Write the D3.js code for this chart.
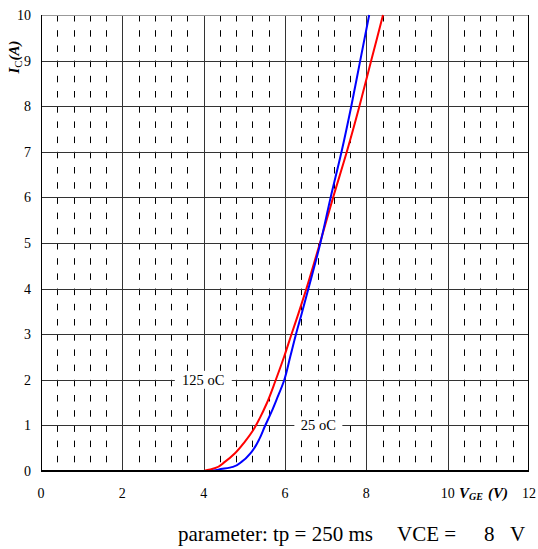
<!DOCTYPE html>
<html>
<head>
<meta charset="utf-8">
<script src="https://cdn.jsdelivr.net/npm/d3@7"></script>
<style>
  body { margin: 0; background: #fff; }
  svg text { font-family: "Liberation Serif", "Times New Roman", serif; fill: #000; }
</style>
</head>
<body>
<div id="chart"></div>
<script>
// transfer characteristic, VGE (V) vs IC (A)
const vge125 = [4.0, 4.27, 4.52, 4.77, 5.01, 5.22, 5.38, 5.55, 5.77, 5.98, 6.16, 6.33, 6.52, 6.86, 7.18, 7.52, 7.83, 8.12, 8.41];
const ic125  = [0, 0.06, 0.2, 0.39, 0.64, 0.9, 1.16, 1.48, 1.99, 2.51, 3.0, 3.45, 3.98, 5.0, 5.99, 7.0, 8.0, 9.0, 10];
const vge25 = [4.2, 4.36, 4.72, 4.93, 5.18, 5.38, 5.5, 5.67, 5.79, 5.98, 6.13, 6.27, 6.41, 6.57, 6.87, 7.12, 7.39, 7.63, 7.85, 8.07];
const ic25  = [0, 0.03, 0.09, 0.2, 0.42, 0.72, 0.97, 1.3, 1.56, 1.99, 2.51, 3.0, 3.45, 3.98, 5.0, 5.99, 7.0, 8.0, 9.0, 10];
const xTicks = [0, 2, 4, 6, 8, 10, 12];
const yTicks = [0, 1, 2, 3, 4, 5, 6, 7, 8, 9, 10];
const xMinor = d3.range(0, 12, 0.4).filter(v => Math.abs(v / 2 - Math.round(v / 2)) > 0.01);

const width = 538, height = 549;
const margin = {left: 41, right: 9, top: 15, bottom: 78};
const x = d3.scaleLinear().domain([0, 12]).range([margin.left, width - margin.right]);
const y = d3.scaleLinear().domain([0, 10]).range([height - margin.bottom, margin.top]);

const svg = d3.select("#chart").append("svg").attr("width", width).attr("height", height);

// dashed minor verticals
svg.append("g").selectAll("line").data(xMinor).join("line")
  .attr("x1", d => Math.round(x(d)) + 0.5).attr("x2", d => Math.round(x(d)) + 0.5)
  .attr("y1", y(10)).attr("y2", y(0))
  .attr("stroke", "#000").attr("stroke-width", 1)
  .attr("stroke-dasharray", "6.5,8.7");

// solid grid
svg.append("g").selectAll("line").data(yTicks.slice(1, -1)).join("line")
  .attr("x1", x(0)).attr("x2", x(12))
  .attr("y1", d => Math.round(y(d)) + 0.5).attr("y2", d => Math.round(y(d)) + 0.5)
  .attr("stroke", "#333");
svg.append("g").selectAll("line").data(xTicks.slice(1, -1)).join("line")
  .attr("x1", d => Math.round(x(d)) + 0.5).attr("x2", d => Math.round(x(d)) + 0.5)
  .attr("y1", y(10)).attr("y2", y(0))
  .attr("stroke", "#333");

// frame
svg.append("line").attr("x1", x(0)).attr("x2", x(12)).attr("y1", y(10) + 0.5).attr("y2", y(10) + 0.5).attr("stroke", "#999");
svg.append("line").attr("x1", x(12) - 0.5).attr("x2", x(12) - 0.5).attr("y1", y(10)).attr("y2", y(0)).attr("stroke", "#000");
svg.append("line").attr("x1", x(0) + 0.5).attr("x2", x(0) + 0.5).attr("y1", y(10)).attr("y2", y(0)).attr("stroke", "#000");

// curve labels with white boxes
const labels = [{t: "125 oC", v: 3.99, i: 2, w: 57}, {t: "25 oC", v: 6.82, i: 1, w: 48}];
labels.forEach(l => {
  svg.append("rect").attr("x", x(l.v) - l.w / 2).attr("y", y(l.i) - 9).attr("width", l.w).attr("height", 18).attr("fill", "#fff");
  svg.append("text").attr("x", x(l.v)).attr("y", y(l.i) + 5).attr("text-anchor", "middle")
    .attr("font-size", 14.5).text(l.t);
});

const line = d3.line().x(d => x(d[0])).y(d => y(d[1])).curve(d3.curveMonotoneY);
svg.append("path").datum(vge125.map((v, k) => [v, ic125[k]])).attr("d", line)
  .attr("fill", "none").attr("stroke", "#f00").attr("stroke-width", 2);
svg.append("path").datum(vge25.map((v, k) => [v, ic25[k]])).attr("d", line)
  .attr("fill", "none").attr("stroke", "#00f").attr("stroke-width", 2);

// bottom axis
svg.append("line").attr("x1", x(0)).attr("x2", x(12)).attr("y1", y(0)).attr("y2", y(0)).attr("stroke", "#000").attr("stroke-width", 2);

// tick labels
svg.append("g").selectAll("text").data(yTicks).join("text")
  .attr("x", 31).attr("y", d => y(d) + 5).attr("text-anchor", "end")
  .attr("font-size", 14).text(d => d);
svg.append("g").selectAll("text").data(xTicks).join("text")
  .attr("x", d => x(d)).attr("y", 498).attr("text-anchor", "middle")
  .attr("font-size", 14).text(d => d);

// axis titles
const yl = svg.append("text").attr("transform", "translate(19,57) rotate(-90)")
  .attr("text-anchor", "middle").attr("font-size", 15).attr("font-weight", "bold").attr("font-style", "italic");
yl.append("tspan").text("I");
yl.append("tspan").attr("font-size", 11).attr("font-weight", "normal").attr("font-style", "normal").attr("dy", 3).text("C");
yl.append("tspan").attr("dy", -3).text("(A)");

const xl = svg.append("text").attr("x", 459).attr("y", 498).attr("font-size", 15)
  .attr("font-weight", "bold").attr("font-style", "italic");
xl.append("tspan").text("V");
xl.append("tspan").attr("font-size", 10).attr("dy", 2).text("GE");
xl.append("tspan").attr("dy", -2).attr("dx", 5).text("(V)");

// footer
svg.append("text").attr("x", 178).attr("y", 541).attr("font-size", 21).text("parameter: tp = 250 ms");
svg.append("text").attr("x", 397).attr("y", 541).attr("font-size", 21).text("VCE =");
svg.append("text").attr("x", 484).attr("y", 541).attr("font-size", 21).text("8");
svg.append("text").attr("x", 510).attr("y", 541).attr("font-size", 21).text("V");
</script>
</body>
</html>
